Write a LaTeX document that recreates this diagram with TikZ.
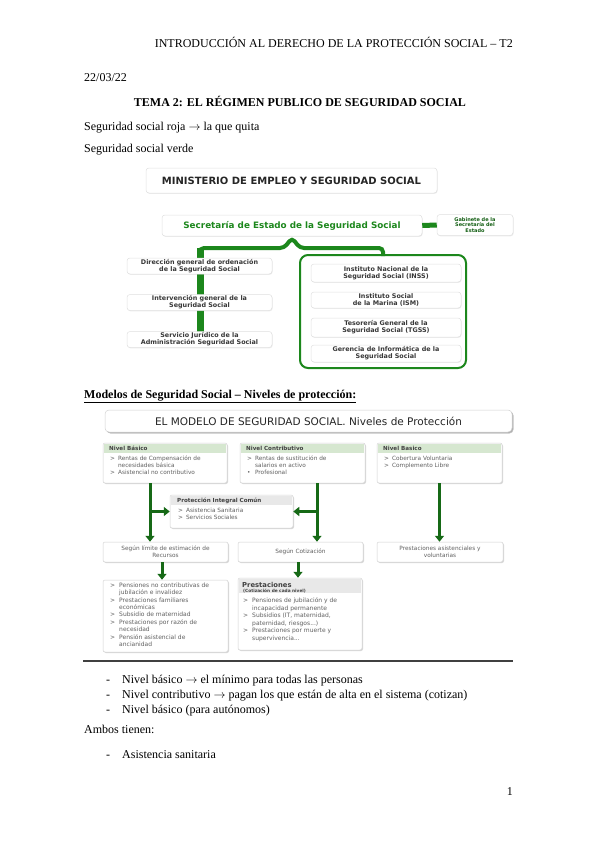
\documentclass[tikz,border=0pt]{standalone}
\usepackage{fontspec}
\setmainfont{Liberation Serif}
\newfontfamily\dia{DejaVu Sans}
\usetikzlibrary{shadows,arrows.meta}
\definecolor{sgreen}{RGB}{28,135,28}
\definecolor{dgreen}{RGB}{22,105,22}
\definecolor{bandgreen}{RGB}{214,231,208}
\definecolor{bandgray}{RGB}{232,232,232}
\newcommand\rarr{\ensuremath{\rightarrow}}
\begin{document}
\begin{tikzpicture}[x=1pt,y=-1pt,
 body/.style={anchor=base west, inner sep=0pt, font=\fontsize{12}{14}\selectfont},
 obox/.style={draw=black!12, fill=white, rounded corners=3pt, line width=0.5pt, drop shadow={opacity=0.15,shadow xshift=0.6pt,shadow yshift=-0.8pt}, inner sep=1pt, align=center},
 otxt/.style={font=\dia\bfseries\fontsize{6.4}{7}\selectfont, text=black!78},
 gbar/.style={draw=sgreen, line width=4pt},
 nbox/.style={draw=black!18, fill=white, rounded corners=2pt, line width=0.5pt, drop shadow={opacity=0.3, shadow xshift=1pt, shadow yshift=-1pt}, inner sep=0pt},
 hdr/.style={anchor=base west, inner sep=0pt, font=\dia\bfseries\fontsize{5.6}{6}\selectfont, text=black!75},
 itm/.style={anchor=north west, inner sep=0pt, font=\dia\fontsize{5.8}{7}\selectfont, text=black!62, align=left},
 garrow/.style={draw=dgreen, line width=3pt, -{Triangle[width=9pt,length=6pt]}}
]
\useasboundingbox[fill=white] (0,0) rectangle (599,848);

% ---------- page text ----------
\node[body, anchor=base east] (head) at (513,48) {INTRODUCCIÓN AL DERECHO DE LA PROTECCIÓN SOCIAL – T2};
\node[body] (date) at (84,82) {22/03/22};
\node[body, anchor=base, font=\bfseries\fontsize{12}{14}\selectfont] (tema) at (300,107) {TEMA 2: EL RÉGIMEN PUBLICO DE SEGURIDAD SOCIAL};
\node[body] (roja) at (84,131) {Seguridad social roja \rarr{} la que quita};
\node[body] (verde) at (84,153) {Seguridad social verde};

% ---------- diagram 1 ----------
\draw[sgreen, line width=2pt, rounded corners=8pt] (300,255) rectangle (466,368);
\draw[sgreen, line width=7pt] (200,248) -- (200,340);
\draw[gbar, rounded corners=4pt] (200,262) |- (284,248) -- (292,238) -- (300,248) -| (383,256);

\node[obox, minimum width=291, minimum height=25] (min) at (291.5,180.5)
  {\dia\bfseries\fontsize{10}{11}\selectfont\color{black!85}MINISTERIO DE EMPLEO Y SEGURIDAD SOCIAL};
\node[obox, minimum width=260, minimum height=21] (sec) at (292,225.5)
  {\dia\bfseries\fontsize{8.8}{10}\selectfont\color{sgreen}Secretaría de Estado de la Seguridad Social};
\node[obox, minimum width=76, minimum height=21, font=\dia\bfseries\fontsize{5}{5.4}\selectfont, text=sgreen!70!black] (gab) at (475,225)
  {Gabinete de la\\Secretaría del\\Estado};
\draw[sgreen, line width=5pt] (sec.east) -- (gab.west);

\node[obox, otxt, minimum width=145, minimum height=16] (dir) at (199.5,266) {Dirección general de ordenación\\de la Seguridad Social};
\node[obox, otxt, minimum width=145, minimum height=16] (int) at (199.5,302.5) {Intervención general de la\\Seguridad Social};
\node[obox, otxt, minimum width=145, minimum height=16] (ser) at (199.5,339.5) {Servicio Jurídico de la\\Administración Seguridad Social};

\node[obox, otxt, minimum width=150, minimum height=18] (inss) at (386,273) {Instituto Nacional de la\\Seguridad Social (INSS)};
\node[obox, otxt, minimum width=150, minimum height=16] (ism) at (386,300) {Instituto Social\\de la Marina (ISM)};
\node[obox, otxt, minimum width=150, minimum height=19] (tgss) at (386,327.5) {Tesorería General de la\\Seguridad Social (TGSS)};
\node[obox, otxt, minimum width=150, minimum height=17] (gis) at (386,353.5) {Gerencia de Informática de la\\Seguridad Social};

% ---------- heading 2 ----------
\node[body, font=\bfseries\fontsize{12}{14}\selectfont] (mod) at (84,398) {\underline{Modelos de Seguridad Social – Niveles de protección:}};

% ---------- diagram 2 ----------
\node[nbox, rounded corners=4pt, minimum width=407, minimum height=22, drop shadow={opacity=0.45, shadow xshift=1.5pt, shadow yshift=-1.5pt}, font=\dia\fontsize{10.5}{12}\selectfont, text=black!85] (ban) at (308.5,421)
  {EL MODELO DE SEGURIDAD SOCIAL. Niveles de Protección};

% top boxes
\node[nbox, minimum width=124, minimum height=40] (b1) at (165,463) {};
\node[nbox, minimum width=125, minimum height=40] (b2) at (302.5,463) {};
\node[nbox, minimum width=125, minimum height=40] (b3) at (439.5,463) {};
\fill[bandgreen] ([shift={(1.5pt,-1.5pt)}]b1.north west) rectangle ([shift={(-1.5pt,-10pt)}]b1.north east);
\fill[bandgreen] ([shift={(1.5pt,-1.5pt)}]b2.north west) rectangle ([shift={(-1.5pt,-10pt)}]b2.north east);
\fill[bandgreen] ([shift={(1.5pt,-1.5pt)}]b3.north west) rectangle ([shift={(-1.5pt,-10pt)}]b3.north east);
\node[hdr] (b1h) at (109,450) {Nivel Básico};
\node[hdr] (b2h) at (246,450) {Nivel Contributivo};
\node[hdr] (b3h) at (383,450) {Nivel Basico};
\node[itm] (b1i) at (110,455) {\begin{tabular}{@{}l@{\hspace{3pt}}l@{}}> & Rentas de Compensación de\\ & necesidades básica\\ > & Asistencial no contributivo\end{tabular}};
\node[itm] (b2i) at (247,455) {\begin{tabular}{@{}l@{\hspace{3pt}}l@{}}> & Rentas de sustitución de\\ & salarios en activo\\ • & Profesional\end{tabular}};
\node[itm] (b3i) at (384,455) {\begin{tabular}{@{}l@{\hspace{3pt}}l@{}}> & Cobertura Voluntaria\\ > & Complemento Libre\end{tabular}};

% protection box
\node[nbox, minimum width=123, minimum height=33] (pic) at (231.5,511.5) {};
\fill[bandgray] ([shift={(1.5pt,-1.5pt)}]pic.north west) rectangle ([shift={(-1.5pt,-10pt)}]pic.north east);
\node[hdr] (pich) at (177,502) {Protección Integral Común};
\node[itm] (pici) at (178,507) {\begin{tabular}{@{}l@{\hspace{3pt}}l@{}}> & Asistencia Sanitaria\\ > & Servicios Sociales\end{tabular}};

% bottom row
\node[nbox, minimum width=125, minimum height=20, align=center, font=\dia\fontsize{5.8}{7}\selectfont, text=black!62] (ba) at (165.5,552) {Según límite de estimación de\\Recursos};
\node[nbox, minimum width=125, minimum height=20, align=center, font=\dia\fontsize{5.8}{7}\selectfont, text=black!62] (bb) at (300.5,552) {Según Cotización};
\node[nbox, minimum width=126, minimum height=20, align=center, font=\dia\fontsize{5.8}{7}\selectfont, text=black!62] (bc) at (440,552) {Prestaciones asistenciales y\\voluntarias};

\node[nbox, minimum width=125, minimum height=72] (bd) at (165.5,616) {};
\node[itm, font=\dia\fontsize{6}{7.4}\selectfont] (bdi) at (110,582) {\begin{tabular}{@{}l@{\hspace{4pt}}l@{}}> & Pensiones no contributivas de\\ & jubilación e invalidez\\ > & Prestaciones familiares\\ & económicas\\ > & Subsidio de maternidad\\ > & Prestaciones por razón de\\ & necesidad\\ > & Pensión asistencial de\\ & ancianidad\end{tabular}};

\node[nbox, minimum width=124, minimum height=72] (be) at (300,614) {};
\fill[bandgray] ([shift={(1.5pt,-1.5pt)}]be.north west) rectangle ([shift={(-1.5pt,-15pt)}]be.north east);
\node[hdr, font=\dia\bfseries\fontsize{6.8}{7}\selectfont] (beh) at (242,587) {Prestaciones};
\node[hdr, font=\dia\bfseries\fontsize{4.3}{5}\selectfont] (beh2) at (243,592) {(Cotización de cada nivel)};
\node[itm, font=\dia\fontsize{6}{7.6}\selectfont] (bei) at (243,597) {\begin{tabular}{@{}l@{\hspace{4pt}}l@{}}> & Pensiones de jubilación y de\\ & incapacidad permanente\\ > & Subsidios (IT, maternidad,\\ & paternidad, riesgos...)\\ > & Prestaciones por muerte y\\ & supervivencia...\end{tabular}};

% arrows
\draw[garrow] ([xshift=-15pt]b1.south) -- ([xshift=-15pt]b1.south |- ba.north);
\draw[garrow] ([xshift=14.5pt]b2.south) -- ([xshift=14.5pt]b2.south |- bb.north);
\draw[garrow] (b3.south) -- (b3.south |- bc.north);
\draw[garrow] ([xshift=-15pt]b1.south |- pic.west) -- (pic.west);
\draw[garrow] ([xshift=14.5pt]b2.south |- pic.east) -- (pic.east);
\draw[garrow] ([xshift=-3.5pt]ba.south) -- ([xshift=-3.5pt]ba.south |- bd.north);
\draw[garrow] ([xshift=-2.5pt]bb.south) -- ([xshift=-2.5pt]bb.south |- be.north);

% rule
\draw[line width=1.8pt, black!75] (83,661) -- (513,661);

% ---------- bullets ----------
\node[body] (d1) at (106,683) {-};
\node[body] (t1) at (122,683) {Nivel básico \rarr{} el mínimo para todas las personas};
\node[body] (d2) at (106,698) {-};
\node[body] (t2) at (122,698) {Nivel contributivo \rarr{} pagan los que están de alta en el sistema (cotizan)};
\node[body] (d3) at (106,713) {-};
\node[body] (t3) at (122,713) {Nivel básico (para autónomos)};
\node[body] (amb) at (84,733) {Ambos tienen:};
\node[body] (d4) at (106,758) {-};
\node[body] (t4) at (122,758) {Asistencia sanitaria};
\node[body, anchor=base east] (pg) at (513,795) {1};
\end{tikzpicture}
\end{document}
